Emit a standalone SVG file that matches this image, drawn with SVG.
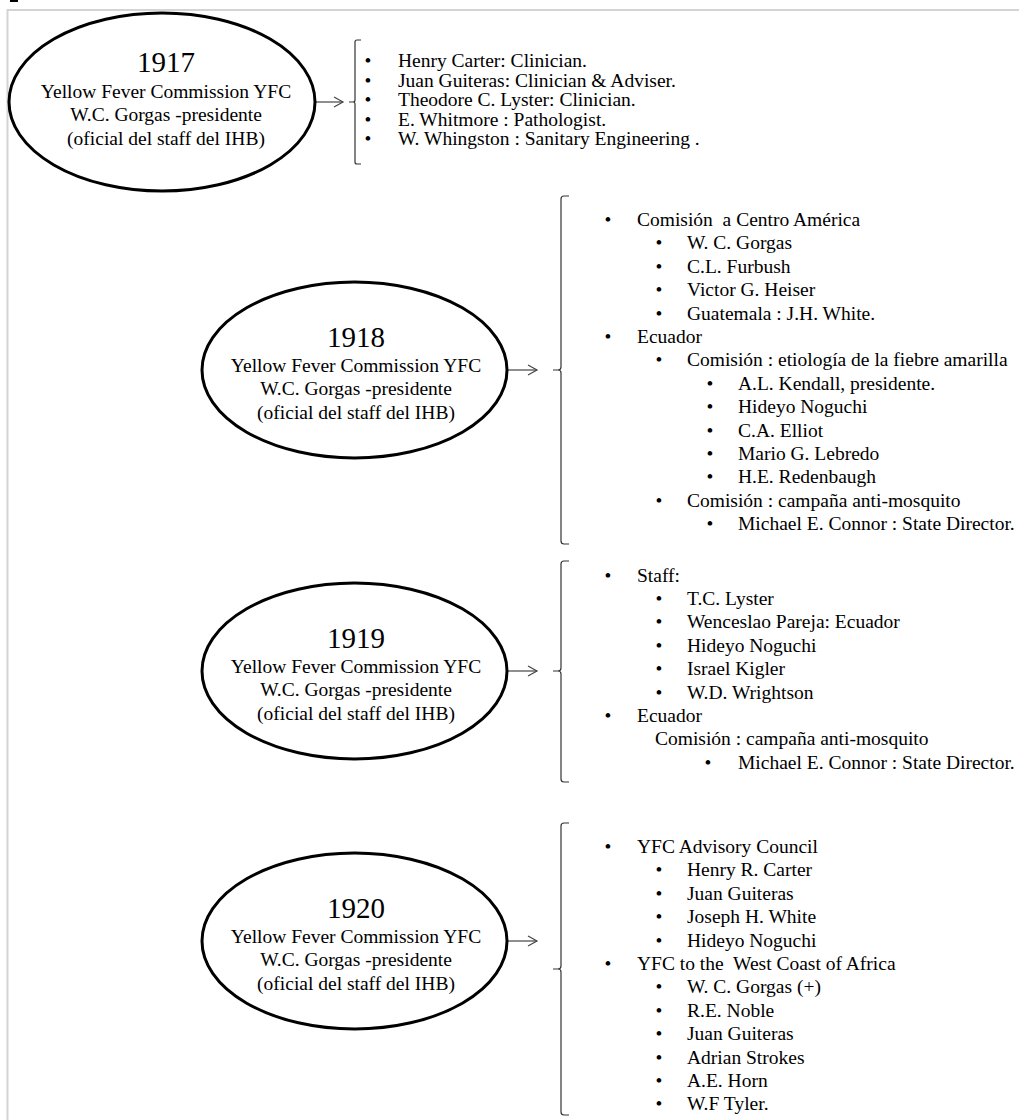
<svg xmlns="http://www.w3.org/2000/svg" width="1019" height="1120" viewBox="0 0 1019 1120">
<style>
text{font-family:"Liberation Serif","Times New Roman",serif;fill:#000}
.yr{font-size:29px;text-anchor:middle}
.el{font-size:19.5px;text-anchor:middle}
.it{font-size:19.5px}
.bu{font-size:19.5px;text-anchor:middle}
.node{fill:#fff;stroke:#000;stroke-width:3}
.br{fill:none;stroke:#333;stroke-width:1.2}
.cn{fill:none;stroke:#444;stroke-width:1.2}
</style>
<defs>
<marker id="ah" markerUnits="userSpaceOnUse" markerWidth="12" markerHeight="12" refX="10" refY="6" orient="auto">
<path d="M1,1 L10,6 L1,11" fill="none" stroke="#444" stroke-width="1.2"/>
</marker>
</defs>
<rect x="7.5" y="10" width="1040" height="1140" fill="#fff" stroke="#d4d4d4" stroke-width="2"/>
<rect x="10" y="0" width="8" height="2" fill="#000"/>

<g id="connectors">
<line class="cn" x1="315" y1="102" x2="343" y2="102" marker-end="url(#ah)"/>
<line class="cn" x1="507" y1="370" x2="537" y2="370" marker-end="url(#ah)"/>
<line class="cn" x1="507" y1="671" x2="537" y2="671" marker-end="url(#ah)"/>
<line class="cn" x1="507" y1="941" x2="537" y2="941" marker-end="url(#ah)"/>
</g>

<g id="node1917">
<ellipse class="node" cx="162" cy="102" rx="153" ry="89"/>
<text class="yr" x="166" y="72">1917</text>
<text class="el" x="166" y="97.5">Yellow Fever Commission YFC</text>
<text class="el" x="166" y="121">W.C. Gorgas -presidente</text>
<text class="el" x="166" y="144.5">(oficial del staff del IHB)</text>
</g>

<g id="list1917">
<path class="br" d="M361,40 L357,40 Q355,40 355,42 L355,100 Q355,102 353,102 L349,102 L353,102 Q355,102 355,104 L355,162 Q355,164 357,164 L361,164"/>
<text class="bu" x="368" y="67">•</text><text class="it" x="398" y="67">Henry Carter: Clinician.</text>
<text class="bu" x="368" y="86.5">•</text><text class="it" x="398" y="86.5">Juan Guiteras: Clinician &amp; Adviser.</text>
<text class="bu" x="368" y="106">•</text><text class="it" x="398" y="106">Theodore C. Lyster: Clinician.</text>
<text class="bu" x="368" y="125.5">•</text><text class="it" x="398" y="125.5">E. Whitmore : Pathologist.</text>
<text class="bu" x="368" y="145">•</text><text class="it" x="398" y="145">W. Whingston : Sanitary Engineering .</text>
</g>

<g id="node1918">
<ellipse class="node" cx="354.5" cy="370" rx="152.5" ry="88"/>
<text class="yr" x="356" y="347">1918</text>
<text class="el" x="356" y="371.5">Yellow Fever Commission YFC</text>
<text class="el" x="356" y="395">W.C. Gorgas -presidente</text>
<text class="el" x="356" y="418.5">(oficial del staff del IHB)</text>
</g>

<g id="list1918">
<path class="br" d="M569,196 L564,196 Q561,196 561,199 L561,367 Q561,370 558,370 L553,370 L558,370 Q561,370 561,373 L561,541 Q561,544 564,544 L569,544"/>
<text class="bu" x="608" y="226">•</text><text class="it" x="637" y="226">Comisión&#160; a Centro América</text>
<text class="bu" x="659" y="249.4">•</text><text class="it" x="687" y="249.4">W. C. Gorgas</text>
<text class="bu" x="659" y="272.8">•</text><text class="it" x="687" y="272.8">C.L. Furbush</text>
<text class="bu" x="659" y="296.2">•</text><text class="it" x="687" y="296.2">Victor G. Heiser</text>
<text class="bu" x="659" y="319.6">•</text><text class="it" x="687" y="319.6">Guatemala : J.H. White.</text>
<text class="bu" x="608" y="343">•</text><text class="it" x="637" y="343">Ecuador</text>
<text class="bu" x="659" y="366.4">•</text><text class="it" x="687" y="366.4">Comisión : etiología de la fiebre amarilla</text>
<text class="bu" x="710" y="389.8">•</text><text class="it" x="738" y="389.8">A.L. Kendall, presidente.</text>
<text class="bu" x="710" y="413.2">•</text><text class="it" x="738" y="413.2">Hideyo Noguchi</text>
<text class="bu" x="710" y="436.6">•</text><text class="it" x="738" y="436.6">C.A. Elliot</text>
<text class="bu" x="710" y="460">•</text><text class="it" x="738" y="460">Mario G. Lebredo</text>
<text class="bu" x="710" y="483.4">•</text><text class="it" x="738" y="483.4">H.E. Redenbaugh</text>
<text class="bu" x="659" y="506.8">•</text><text class="it" x="687" y="506.8">Comisión : campaña anti-mosquito</text>
<text class="bu" x="710" y="530.2">•</text><text class="it" x="738" y="530.2">Michael E. Connor : State Director.</text>
</g>

<g id="node1919">
<ellipse class="node" cx="354.5" cy="671" rx="152.5" ry="88"/>
<text class="yr" x="356" y="648">1919</text>
<text class="el" x="356" y="672.5">Yellow Fever Commission YFC</text>
<text class="el" x="356" y="696">W.C. Gorgas -presidente</text>
<text class="el" x="356" y="719.5">(oficial del staff del IHB)</text>
</g>

<g id="list1919">
<path class="br" d="M569,561 L564,561 Q561,561 561,564 L561,668 Q561,671 558,671 L553,671 L558,671 Q561,671 561,674 L561,779 Q561,782 564,782 L569,782"/>
<text class="bu" x="608" y="581.5">•</text><text class="it" x="637" y="581.5">Staff:</text>
<text class="bu" x="659" y="604.9">•</text><text class="it" x="687" y="604.9">T.C. Lyster</text>
<text class="bu" x="659" y="628.3">•</text><text class="it" x="687" y="628.3">Wenceslao Pareja: Ecuador</text>
<text class="bu" x="659" y="651.7">•</text><text class="it" x="687" y="651.7">Hideyo Noguchi</text>
<text class="bu" x="659" y="675.1">•</text><text class="it" x="687" y="675.1">Israel Kigler</text>
<text class="bu" x="659" y="698.5">•</text><text class="it" x="687" y="698.5">W.D. Wrightson</text>
<text class="bu" x="608" y="721.9">•</text><text class="it" x="637" y="721.9">Ecuador</text>
<text class="it" x="655" y="745.3">Comisión : campaña anti-mosquito</text>
<text class="bu" x="708" y="768.7">•</text><text class="it" x="738" y="768.7">Michael E. Connor : State Director.</text>
</g>

<g id="node1920">
<ellipse class="node" cx="354.5" cy="941" rx="152.5" ry="88"/>
<text class="yr" x="356" y="918">1920</text>
<text class="el" x="356" y="942.5">Yellow Fever Commission YFC</text>
<text class="el" x="356" y="966">W.C. Gorgas -presidente</text>
<text class="el" x="356" y="989.5">(oficial del staff del IHB)</text>
</g>

<g id="list1920">
<path class="br" d="M569,823 L564,823 Q561,823 561,826 L561,966 Q561,969 558,969 L553,969 L558,969 Q561,969 561,972 L561,1112 Q561,1115 564,1115 L569,1115"/>
<text class="bu" x="608" y="853">•</text><text class="it" x="637" y="853">YFC Advisory Council</text>
<text class="bu" x="659" y="876.4">•</text><text class="it" x="687" y="876.4">Henry R. Carter</text>
<text class="bu" x="659" y="899.8">•</text><text class="it" x="687" y="899.8">Juan Guiteras</text>
<text class="bu" x="659" y="923.2">•</text><text class="it" x="687" y="923.2">Joseph H. White</text>
<text class="bu" x="659" y="946.6">•</text><text class="it" x="687" y="946.6">Hideyo Noguchi</text>
<text class="bu" x="608" y="970">•</text><text class="it" x="637" y="970">YFC to the&#160; West Coast of Africa</text>
<text class="bu" x="659" y="993.4">•</text><text class="it" x="687" y="993.4">W. C. Gorgas (+)</text>
<text class="bu" x="659" y="1016.8">•</text><text class="it" x="687" y="1016.8">R.E. Noble</text>
<text class="bu" x="659" y="1040.2">•</text><text class="it" x="687" y="1040.2">Juan Guiteras</text>
<text class="bu" x="659" y="1063.6">•</text><text class="it" x="687" y="1063.6">Adrian Strokes</text>
<text class="bu" x="659" y="1087">•</text><text class="it" x="687" y="1087">A.E. Horn</text>
<text class="bu" x="659" y="1110.4">•</text><text class="it" x="687" y="1110.4">W.F Tyler.</text>
</g>
</svg>
